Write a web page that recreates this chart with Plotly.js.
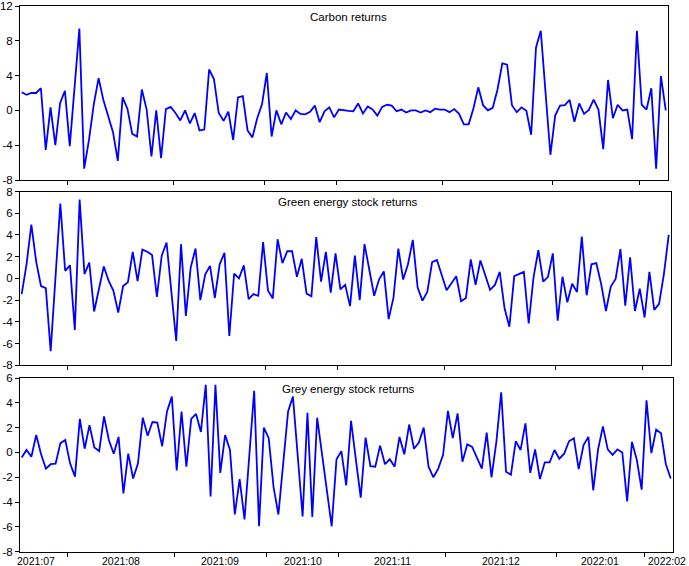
<!DOCTYPE html>
<html><head><meta charset="utf-8">
<script src="https://cdn.plot.ly/plotly-3.0.1.min.js"></script>
<style>html,body{margin:0;padding:0;background:#fff;} #chart{width:689px;height:566px;}</style>
</head><body><div id="chart"></div>
<script>
const monthLabels = ['2021:07','2021:08','2021:09','2021:10','2021:11','2021:12','2022:01','2022:02'];
const monthCounts = [10,22,19,15,22,23,18,6];

const carbon = [2.08,1.8,2.0,2.0,2.55,-4.55,0.35,-4.0,0.85,2.24,
  -4.1,2.6,9.4,-6.7,-3.4,0.7,3.7,1.2,-0.7,-2.5,
  -5.8,1.5,0.2,-2.7,-3.0,2.4,0.1,-5.3,0.0,-5.5,
  0.15,0.4,-0.3,-1.15,0.0,-1.5,-0.3,-2.3,-2.2,4.7,
  3.6,-0.3,-1.2,-0.15,-3.4,1.5,1.65,-2.3,-3.1,-0.9,
  0.7,4.3,-3.0,0.0,-1.6,-0.25,-1.0,0.0,-0.4,-0.45,
  -0.15,0.55,-1.35,-0.1,0.35,-0.8,0.1,0.0,-0.05,-0.1,
  0.8,-0.35,0.45,0.1,-0.6,0.4,0.65,0.55,-0.1,0.1,
  -0.25,0.0,0.0,-0.25,0.0,-0.2,0.2,0.1,0.1,-0.2,
  0.15,-0.4,-1.6,-1.6,0.25,2.65,0.6,0.0,0.3,2.4,
  5.4,5.25,0.6,-0.2,0.35,-0.05,-2.8,7.2,9.15,2.0,
  -5.1,-0.6,0.55,0.6,1.2,-1.3,0.8,-0.4,0.05,1.25,
  0.1,-4.45,3.5,-0.9,0.65,0.0,0.1,-3.3,9.15,0.65,
  0.1,2.55,-6.7,3.95,0.0];

const green = [-1.45,1.3,4.95,1.55,-0.7,-0.9,-6.7,0.1,6.9,0.7,
  1.2,-4.75,7.25,0.4,1.45,-3.05,-0.85,1.1,-0.2,-1.15,
  -3.15,-0.7,-0.35,2.45,-0.25,2.65,2.45,2.15,-1.7,2.1,
  3.3,-1.2,-5.75,3.15,-3.45,1.0,2.75,-2.0,0.35,1.15,
  -1.8,1.3,2.35,-5.3,0.45,0.0,1.2,-1.9,-1.45,-1.6,
  3.35,-1.1,-1.85,3.6,1.4,2.5,2.5,0.15,1.8,-1.4,
  -1.65,3.8,-0.3,2.45,-1.3,2.3,-1.0,-0.6,-2.55,2.1,
  -2.0,3.15,0.75,-1.6,-0.1,0.65,-3.75,-1.75,2.75,-0.1,
  1.3,3.55,-0.85,-2.05,-1.25,1.5,1.7,0.3,-1.1,-0.45,
  0.2,-2.1,-1.8,1.75,-0.6,1.65,0.25,-1.05,-0.6,0.6,
  -2.75,-4.45,0.2,0.4,0.6,-4.15,0.1,2.6,-0.3,0.15,
  2.3,-3.9,0.15,-2.2,-0.5,-1.25,3.85,-1.55,1.3,1.4,
  -0.5,-3.0,-0.75,-0.05,2.7,-2.5,1.95,-3.0,-0.95,-3.6,
  0.6,-2.9,-2.35,0.4,4.0];

const grey = [-0.4,0.2,-0.35,1.4,-0.15,-1.3,-0.95,-0.9,0.75,1.0,
  -0.9,-1.95,2.7,0.3,2.2,0.4,0.1,2.9,1.0,-0.1,
  1.25,-3.3,-0.1,-2.1,-0.9,2.8,1.35,2.45,2.4,0.5,
  3.3,4.5,-1.45,3.3,-1.15,2.7,3.1,1.65,5.45,-3.55,
  5.45,-1.65,1.4,0.2,-5.0,-2.15,-5.4,-0.3,4.97,-5.95,
  2.0,1.15,-2.8,-5.0,-0.6,3.3,4.5,-0.3,-5.15,3.2,
  -5.2,2.8,0.0,-3.0,-5.95,-0.55,0.1,-2.65,2.55,-0.6,
  -3.65,1.2,-1.1,-1.15,0.55,-0.95,-0.55,-1.15,1.25,-0.15,
  2.25,0.3,0.8,2.0,-1.15,-2.0,-1.3,-0.2,3.35,1.15,
  3.15,-0.75,0.65,0.45,-0.5,-1.3,1.6,-2.0,0.85,4.85,
  -1.55,-1.8,0.9,0.2,2.35,-1.65,0.25,-2.15,-0.8,-0.8,
  0.2,-0.5,-0.1,0.9,1.15,-1.35,0.6,1.25,-3.05,0.25,
  2.1,0.25,-0.2,0.25,0.0,-3.95,0.85,-0.6,-3.0,4.2,
  -0.05,1.85,1.55,-0.95,-2.1];

const carbonTicks = [-8,-4,0,4,8,12];
const greenTicks = [-8,-6,-4,-2,0,2,4,6,8];
const greyTicks = [-8,-6,-4,-2,0,2,4,6];
const panelTitles = ['Carbon returns','Green energy stock returns','Grey energy stock returns'];

// derived positions
const N = carbon.length;
const idx = carbon.map((_, i) => i);
const bounds = [], centers = [];
let acc = 0;
monthCounts.forEach((c, i) => {
  centers.push(acc + (c - 1) / 2);
  acc += c;
  if (i < monthCounts.length - 1) bounds.push(acc - 0.5);
});

const W = 689, H = 566;
const xr = [-0.35, N - 1 + 0.47];
const panels = [
  {y: carbon, ticks: carbonTicks, range: [-8, 12], x: [20, 668], top: 6, bot: 180},
  {y: green, ticks: greenTicks, range: [-8, 8], x: [20, 671], top: 191.5, bot: 365.3},
  {y: grey, ticks: greyTicks, range: [-8, 6], x: [20, 673], top: 378, bot: 551.7}
];

const font = 'Liberation Sans, Arial, sans-serif';
const data = [];
const layout = {
  width: W, height: H, margin: {l: 0, r: 0, t: 0, b: 0},
  paper_bgcolor: '#fff', plot_bgcolor: '#fff', showlegend: false,
  font: {family: font, color: '#000'},
  annotations: []
};

panels.forEach((p, k) => {
  const s = k === 0 ? '' : String(k + 1);
  data.push({
    x: idx, y: p.y, type: 'scatter', mode: 'lines',
    line: {color: '#0000ff', width: 1.8},
    xaxis: 'x' + s, yaxis: 'y' + s, hoverinfo: 'skip'
  });
  layout['xaxis' + s] = {
    domain: [p.x[0] / W, p.x[1] / W], anchor: 'y' + s, range: xr,
    tickmode: 'array', tickvals: bounds, showticklabels: false,
    ticks: 'outside', ticklen: 4, tickwidth: 1, tickcolor: '#000',
    showline: true, linecolor: '#000', linewidth: 1, mirror: true,
    showgrid: false, zeroline: false, fixedrange: true
  };
  layout['yaxis' + s] = {
    domain: [1 - p.bot / H, 1 - p.top / H], anchor: 'x' + s, range: p.range,
    tickmode: 'array', tickvals: p.ticks, ticktext: p.ticks.map(String),
    ticks: 'outside', ticklen: 4, tickwidth: 1, tickcolor: '#000',
    ticklabeloverflow: 'allow',
    tickfont: {size: 11.5, family: font, color: '#000'},
    showline: true, linecolor: '#000', linewidth: 1, mirror: true,
    showgrid: false, zeroline: false, fixedrange: true
  };
  layout.annotations.push({
    text: panelTitles[k], xref: 'paper', yref: 'paper',
    x: 348 / W, y: 1 - p.top / H, xanchor: 'center', yanchor: 'top', yshift: -3,
    showarrow: false, font: {size: 11.5, family: font, color: '#000'}
  });
});

// month labels under bottom panel
const bottom = panels[2];
monthLabels.forEach((lab, i) => {
  const a = {
    text: lab, xref: 'x3', yref: 'paper', y: 1 - bottom.bot / H, yanchor: 'top', yshift: -1,
    showarrow: false, font: {size: 10.5, family: font, color: '#000'},
    x: centers[i], xanchor: 'center'
  };
  if (i === 0) { a.x = 0; a.xanchor = 'left'; a.xshift = -7; }
  if (i === monthLabels.length - 1) { a.x = N - 1; a.xanchor = 'right'; a.xshift = 17; }
  layout.annotations.push(a);
});

Plotly.newPlot('chart', data, layout, {displayModeBar: false, staticPlot: true});
</script></body></html>
